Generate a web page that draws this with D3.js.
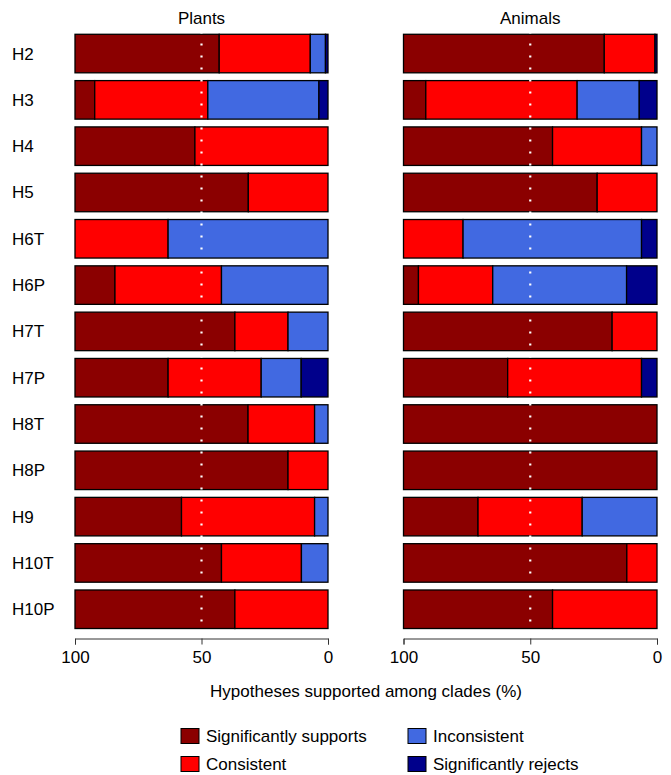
<!DOCTYPE html>
<html>
<head>
<meta charset="utf-8">
<script src="https://cdn.jsdelivr.net/npm/d3@7"></script>
<style>
  body { margin: 0; background: #fff; }
  svg text { font-family: "Liberation Sans", Arial, Helvetica, sans-serif; fill: #000; }
</style>
</head>
<body>
<svg id="chart" width="671" height="775"></svg>
<script>
// hypotheses (rows)
const hypotheses = ['H2', 'H3', 'H4', 'H5', 'H6T', 'H6P', 'H7T', 'H7P', 'H8T', 'H8P', 'H9', 'H10T', 'H10P'];

// categories, in stacking order from the 100 side
const categories = ['Significantly supports', 'Consistent', 'Inconsistent', 'Significantly rejects'];

// Plants, % of clades
const plantsSupports     = [57, 7.8, 47.4, 68.5, 0, 15.8, 63.2, 36.8, 68.4, 84.2, 42.1, 57.9, 63.2];
const plantsConsistent   = [36, 44.7, 52.6, 31.5, 36.8, 42.1, 21.0, 36.8, 26.3, 15.8, 52.6, 31.6, 36.8];
const plantsInconsistent = [6, 43.9, 0, 0, 63.2, 42.1, 15.8, 15.8, 5.3, 0, 5.3, 10.5, 0];
const plantsRejects      = [1, 3.6, 0, 0, 0, 0, 0, 10.6, 0, 0, 0, 0, 0];

// Animals, % of clades
const animalsSupports     = [79.2, 8.8, 58.8, 76.4, 0, 5.9, 82.3, 41.1, 100, 100, 29.4, 88.1, 58.8];
const animalsConsistent   = [20.0, 59.7, 35.1, 23.6, 23.5, 29.3, 17.7, 52.8, 0, 0, 41.1, 11.9, 41.2];
const animalsInconsistent = [0, 24.5, 6.1, 0, 70.4, 52.8, 0, 0, 0, 0, 29.5, 0, 0];
const animalsRejects      = [0.8, 7.0, 0, 0, 6.1, 12.0, 0, 6.1, 0, 0, 0, 0, 0];

const colors = ['#8b0000', '#ff0000', '#4169e1', '#00008b'];

const xTicks = [100, 50, 0];

const FONT = '17px';

const svg = d3.select('#chart');

const y = d3.scaleBand()
    .domain(hypotheses)
    .range([30.4, 632.4])
    .paddingInner(0.168)
    .paddingOuter(0.084);

const panels = [
    {title: 'Plants', left: 75, right: 328, series: [plantsSupports, plantsConsistent, plantsInconsistent, plantsRejects]},
    {title: 'Animals', left: 403.5, right: 657, series: [animalsSupports, animalsConsistent, animalsInconsistent, animalsRejects]}
];

const AXIS_Y = 638.5;

panels.forEach(panel => {
    const x = d3.scaleLinear().domain([100, 0]).range([panel.left, panel.right]);
    const g = svg.append('g');

    // build segments for each row
    const segs = [];
    hypotheses.forEach((h, r) => {
        let cum = 0;
        panel.series.forEach((vals, c) => {
            const v = vals[r];
            if (v > 0) segs.push({h: h, c: c, start: cum, end: cum + v});
            cum += v;
        });
    });

    g.selectAll('rect.seg')
        .data(segs)
        .enter()
        .append('rect')
        .attr('class', 'seg')
        .attr('x', d => x(100 - d.start))
        .attr('width', d => x(100 - d.end) - x(100 - d.start))
        .attr('y', d => y(d.h))
        .attr('height', y.bandwidth())
        .style('fill', d => colors[d.c])
        .style('stroke', '#000')
        .style('stroke-width', 1.3);

    // dotted 50% line
    g.append('line')
        .attr('x1', x(50)).attr('x2', x(50))
        .attr('y1', y.range()[0] + 1).attr('y2', y.range()[1] - 2)
        .style('stroke', '#fff')
        .style('stroke-width', 2.2)
        .style('stroke-dasharray', '2,10');

    // title
    g.append('text')
        .attr('x', x(50))
        .attr('y', 24)
        .attr('text-anchor', 'middle')
        .style('font-size', FONT)
        .text(panel.title);

    // axis
    const axis = g.append('g')
        .attr('transform', 'translate(0,' + AXIS_Y + ')')
        .call(d3.axisBottom(x).tickValues(xTicks).tickSizeOuter(0).tickSize(6).tickPadding(6));
    axis.select('.domain').style('stroke', '#333');
    axis.selectAll('.tick line').style('stroke', '#333');
    axis.selectAll('.tick text')
        .style('font-size', FONT)
        .style('font-family', '"Liberation Sans", Arial, sans-serif')
        .attr('fill', '#000');
});

// row labels
svg.append('g').selectAll('text')
    .data(hypotheses)
    .enter()
    .append('text')
    .attr('x', 12)
    .attr('y', d => y(d) + y.bandwidth() / 2)
    .attr('dy', '0.35em')
    .style('font-size', FONT)
    .text(d => d);

// axis title
svg.append('text')
    .attr('x', 366)
    .attr('y', 697)
    .attr('text-anchor', 'middle')
    .style('font-size', FONT)
    .text('Hypotheses supported among clades (%)');

// legend
const legendPos = [[181, 736], [181, 764], [408, 736], [408, 764]];
const legend = svg.append('g').selectAll('g')
    .data(categories)
    .enter()
    .append('g')
    .attr('transform', (d, i) => 'translate(' + legendPos[i][0] + ',' + legendPos[i][1] + ')');

legend.append('rect')
    .attr('x', 0).attr('y', -7.5)
    .attr('width', 18).attr('height', 15)
    .style('fill', (d, i) => colors[i])
    .style('stroke', '#000')
    .style('stroke-width', 1);

legend.append('text')
    .attr('x', 25)
    .attr('dy', '0.35em')
    .style('font-size', FONT)
    .text(d => d);
</script>
</body>
</html>
